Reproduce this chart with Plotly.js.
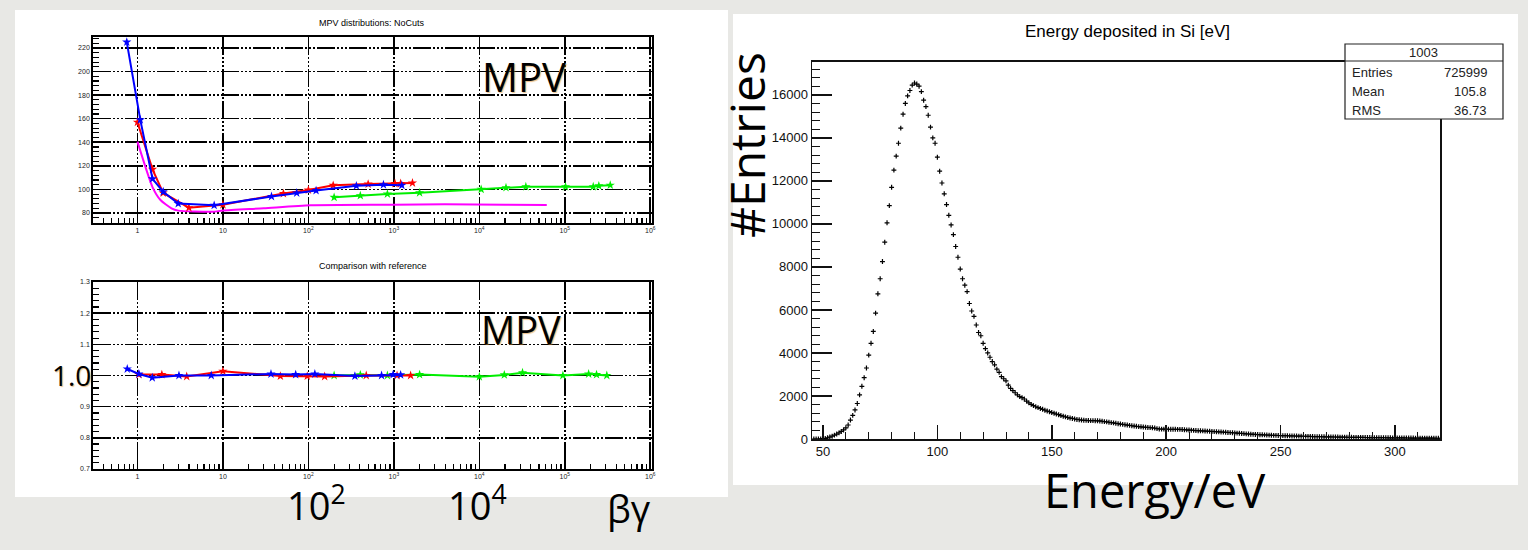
<!DOCTYPE html>
<html><head><meta charset="utf-8">
<script src="https://cdn.plot.ly/plotly-3.0.1.min.js"></script>
<style>html,body{margin:0;padding:0;background:#e8e8e5;}#chart{width:1528px;height:550px;}</style>
</head><body><div id="chart"></div><script>
// ---------- data: MPV vs beta*gamma (top left) ----------
const bgBlue  = [0.75, 1.08, 1.5, 2.0, 3.0, 7.9, 37, 73, 123, 364, 755, 1240];
const mpvBlue = [225, 159, 109, 98, 88, 86.5, 94, 97, 99, 103, 104, 103.5];
const bgRed   = [1.0, 1.5, 2.0, 4.0, 10, 51, 100, 195, 500, 1030, 1200, 1650];
const mpvRed  = [157, 117, 97, 84.5, 87, 96.5, 99.5, 103.5, 104.5, 105, 105, 105.5];
const bgMag   = [1.0, 1.5, 1.86, 2.5, 3.0, 7.5, 10, 30, 106, 1000, 3950, 20000, 61500];
const mpvMag  = [140.5, 102, 91, 84, 82, 81, 82, 84, 86.5, 87, 87.5, 87, 86.8];
const bgGreen = [200, 405, 840, 2000, 10500, 20500, 35000, 102000, 215000, 250000, 340000];
const mpvGreen= [93.3, 94.7, 96.1, 97.2, 100.1, 101.5, 102.3, 102.3, 102.3, 103, 103.6];
// ---------- data: ratio to reference (bottom left) ----------
const bgBlueR  = [0.76, 1.04, 1.49, 3.06, 7.3, 36.5, 71, 119, 350, 718, 980, 1200];
const ratBlue  = [1.021, 1.005, 0.993, 1.0, 1.0, 1.005, 1.003, 1.005, 0.998, 1.0, 1.003, 1.002];
const bgRedR   = [1.04, 1.93, 3.77, 10, 47, 97, 155, 475, 1090, 1570];
const ratRed   = [1.003, 1.003, 0.997, 1.014, 0.998, 0.998, 0.997, 1.0, 1.0, 1.0];
const bgGreenR = [200, 405, 840, 2000, 10000, 19600, 32000, 95000, 190000, 235000, 310000];
const ratGreen = [1.0, 1.002, 1.0, 1.003, 0.996, 1.002, 1.009, 1.0, 1.005, 1.003, 1.0];
const logTickVals = [1, 10, 100, 1000, 10000, 100000, 1000000];
const logTickText = ['1','10','10<sup>2</sup>','10<sup>3</sup>','10<sup>4</sup>','10<sup>5</sup>','10<sup>6</sup>'];
// ---------- data: energy deposited histogram (right) ----------
const binStart = 46;   // eV, first bin centre
const binWidth = 1;    // eV
const counts = [
0,0,0,5,15,30,55,90,130,180,230,285,350,420,520,650,880,1100,1350,1650,
2050,2450,2850,3300,3900,4450,5000,5850,6750,7450,8250,9150,10050,10850,11700,12500,13150,13750,14450,15100,
15600,15950,16200,16450,16550,16500,16400,16150,15750,15450,15050,14500,14000,13750,13100,12450,11900,11400,10900,10400,
9950,9500,8950,8450,7900,7450,7150,6850,6300,5950,5700,5300,4950,4800,4450,4200,4000,3800,3600,3450,
3250,3100,2900,2800,2700,2500,2350,2250,2150,2050,1970,1920,1860,1760,1680,1610,1550,1500,1460,1420,
1380,1340,1300,1270,1230,1200,1160,1130,1090,1060,1030,1000,975,955,930,910,895,880,870,865,
858,855,852,848,845,838,825,810,795,778,760,748,730,712,695,680,662,648,632,616,
602,590,576,566,555,545,536,527,520,508,482,466,460,457,455,453,452,451,450,449,
448,440,432,424,416,408,400,393,387,382,376,370,364,357,351,345,340,333,326,319,
312,305,298,290,282,274,265,257,249,240,232,224,216,211,206,201,196,190,185,180,
175,170,167,163,160,157,153,150,146,142,139,136,133,130,127,124,121,118,115,112,
109,106,104,102,100,98,96,94,92,90,88,86,84,82,80,79,77,76,74,73,
71,70,68,67,65,64,63,61,60,59,57,56,55,53,52,51,50,49,48,47,
46,45,44,43,42,41,40,40,39,38,38,37,36,36,35
];
const energies = counts.map((_, i) => binStart + i * binWidth);
const statsName = '1003';
const statsLabels = ['Entries', 'Mean', 'RMS'];
const statsValues = ['725999', '105.8', '36.73'];

// ---------- layout helpers ----------
const W = 1528, H = 550;
const fx = p => p / W, fy = p => 1 - p / H;
const minorLog = [];
for (let d = -1; d <= 5; d++) for (let m = 2; m <= 9; m++) {
  const v = m * Math.pow(10, d); if (v >= 0.3 && v <= 1e6) minorLog.push(v);
}
const rootFont = 'Liberation Sans, Arial, sans-serif';
const bigFont = 'Open Sans, Noto Sans, sans-serif';
const gridDash = '18px,2px,2px,2px,2px,2px,2px,2px';

function logAxis(anchor) {
  return {
    domain: [fx(93), fx(652)], anchor: anchor, type: 'log', range: [-0.52, 6.02],
    showline: true, mirror: true, linecolor: '#000', linewidth: 1.8,
    ticks: 'inside', ticklen: 9, tickwidth: 1.6, tickcolor: '#000',
    tickmode: 'array', tickvals: logTickVals, ticktext: logTickText,
    tickfont: {family: rootFont, size: 7, color: '#222'},
    showgrid: true, gridcolor: '#000', gridwidth: 1.6, griddash: gridDash,
    minor: {tickmode: 'array', tickvals: minorLog, ticks: 'inside', ticklen: 5, tickwidth: 1.2, tickcolor: '#000', showgrid: false},
    zeroline: false, fixedrange: true
  };
}

const traces = [
  {x: bgMag, y: mpvMag, xaxis: 'x', yaxis: 'y', mode: 'lines', line: {color: '#ff00ff', width: 2, shape: 'spline', smoothing: 0.6}},
  {x: bgGreen, y: mpvGreen, xaxis: 'x', yaxis: 'y', mode: 'lines+markers', line: {color: '#00ee00', width: 2}, marker: {symbol: 'star', size: 7, color: '#00ee00'}},
  {x: bgRed, y: mpvRed, xaxis: 'x', yaxis: 'y', mode: 'lines+markers', line: {color: '#ff0000', width: 2}, marker: {symbol: 'star', size: 7, color: '#ff0000'}},
  {x: bgBlue, y: mpvBlue, xaxis: 'x', yaxis: 'y', mode: 'lines+markers', line: {color: '#0000ff', width: 2}, marker: {symbol: 'star', size: 7, color: '#0000ff'}},
  {x: bgGreenR, y: ratGreen, xaxis: 'x2', yaxis: 'y2', mode: 'lines+markers', line: {color: '#00ee00', width: 2}, marker: {symbol: 'star', size: 7, color: '#00ee00'}},
  {x: bgRedR, y: ratRed, xaxis: 'x2', yaxis: 'y2', mode: 'lines+markers', line: {color: '#ff0000', width: 2}, marker: {symbol: 'star', size: 7, color: '#ff0000'}},
  {x: bgBlueR, y: ratBlue, xaxis: 'x2', yaxis: 'y2', mode: 'lines+markers', line: {color: '#0000ff', width: 2}, marker: {symbol: 'star', size: 7, color: '#0000ff'}},
  {x: energies, y: counts, xaxis: 'x3', yaxis: 'y3', mode: 'markers',
   marker: {symbol: 'cross-thin', size: 3.5, color: '#000', line: {width: 1.2, color: '#000'}}}
];

const ann = (text, xp, yp, size, opts) => Object.assign({
  text: text, x: fx(xp), y: fy(yp), xref: 'paper', yref: 'paper', showarrow: false,
  xanchor: 'center', yanchor: 'middle', font: {family: rootFont, size: size, color: '#000'}
}, opts || {});
const glow = '1px 1px 1px rgba(220,140,40,0.55)';

const annotations = [
  ann('MPV distributions: NoCuts', 372, 23, 9),
  ann('Comparison with reference', 373, 266, 9),
  ann('MPV', 524, 76, 40, {font: {family: bigFont, size: 40, color: '#000', shadow: glow}}),
  ann('MPV', 521, 329, 38, {font: {family: bigFont, size: 38, color: '#000', shadow: glow}}),
  ann('1.0', 71, 375, 28, {font: {family: bigFont, size: 28, color: '#000', shadow: glow}}),
  ann('10<sup>2</sup>', 316, 503, 38, {font: {family: bigFont, size: 38, color: '#000'}}),
  ann('10<sup>4</sup>', 477, 503, 38, {font: {family: bigFont, size: 38, color: '#000'}}),
  ann('βγ', 629, 508, 38, {font: {family: bigFont, size: 38, color: '#000'}}),
  ann('Energy deposited in Si [eV]', 1127, 31, 17),
  ann('#Entries', 746, 145, 48, {textangle: -90, font: {family: bigFont, size: 48, color: '#000'}}),
  ann('Energy/eV', 1155, 490, 47, {font: {family: bigFont, size: 47, color: '#000'}}),
  ann(statsName, 1423, 53, 13, {font: {family: rootFont, size: 13, color: '#222'}})
];
const statsY = [73, 92, 111];
statsLabels.forEach((l, i) => {
  annotations.push(ann(l, 1350, statsY[i], 13, {xanchor: 'left', font: {family: rootFont, size: 13, color: '#222'}}));
  annotations.push(ann(statsValues[i], 1489, statsY[i], 13, {xanchor: 'right', font: {family: rootFont, size: 13, color: '#222'}}));
});

const shapes = [
  {type: 'rect', xref: 'paper', yref: 'paper', x0: fx(15), x1: fx(728), y0: fy(497), y1: fy(10), fillcolor: '#fff', line: {width: 0}, layer: 'below'},
  {type: 'rect', xref: 'paper', yref: 'paper', x0: fx(733), x1: fx(1518), y0: fy(485), y1: fy(14), fillcolor: '#fff', line: {width: 0}, layer: 'below'},
  {type: 'rect', xref: 'paper', yref: 'paper', x0: fx(1345), x1: fx(1503), y0: fy(119), y1: fy(44), fillcolor: '#fff', line: {width: 1.2, color: '#222'}, layer: 'above'},
  {type: 'line', xref: 'paper', yref: 'paper', x0: fx(1345), x1: fx(1503), y0: fy(61), y1: fy(61), line: {width: 1, color: '#222'}, layer: 'above'}
];

const layout = {
  width: W, height: H, margin: {l: 0, r: 0, t: 0, b: 0},
  paper_bgcolor: '#e8e8e5', plot_bgcolor: '#fff', showlegend: false,
  xaxis: logAxis('y'),
  yaxis: {
    domain: [fy(223), fy(37)], anchor: 'x', range: [71.5, 229.3], dtick: 20, tick0: 0,
    showline: true, mirror: true, linecolor: '#000', linewidth: 1.8,
    ticks: 'inside', ticklen: 10, tickwidth: 1.6, tickcolor: '#000',
    tickfont: {family: rootFont, size: 7, color: '#222'},
    showgrid: true, gridcolor: '#000', gridwidth: 1.6, griddash: gridDash,
    minor: {dtick: 4, ticks: 'inside', ticklen: 6, tickwidth: 1.2, tickcolor: '#000', showgrid: false},
    zeroline: false, fixedrange: true
  },
  xaxis2: logAxis('y2'),
  yaxis2: {
    domain: [fy(469), fy(282)], anchor: 'x2', range: [0.7, 1.3],
    tickmode: 'array', tickvals: [0.7, 0.8, 0.9, 1.0, 1.1, 1.2, 1.3], ticktext: ['0.7', '0.8', '0.9', '', '1.1', '1.2', '1.3'],
    showline: true, mirror: true, linecolor: '#000', linewidth: 1.8,
    ticks: 'inside', ticklen: 10, tickwidth: 1.6, tickcolor: '#000',
    tickfont: {family: rootFont, size: 7, color: '#222'},
    showgrid: true, gridcolor: '#000', gridwidth: 1.6, griddash: gridDash,
    minor: {dtick: 0.02, tick0: 0.7, ticks: 'inside', ticklen: 6, tickwidth: 1.2, tickcolor: '#000', showgrid: false},
    zeroline: false, fixedrange: true
  },
  xaxis3: {
    domain: [fx(812), fx(1440)], anchor: 'y3', range: [45.2, 319.7], dtick: 50, tick0: 0,
    showline: true, mirror: true, linecolor: '#111', linewidth: 1.5,
    ticks: 'inside', ticklen: 14, tickwidth: 1.5, tickcolor: '#111',
    tickfont: {family: rootFont, size: 13, color: '#111'},
    minor: {dtick: 10, ticks: 'inside', ticklen: 7, tickwidth: 1, tickcolor: '#111'},
    showgrid: false, zeroline: false, fixedrange: true
  },
  yaxis3: {
    domain: [fy(439), fy(61.7)], anchor: 'x3', range: [0, 17540], dtick: 2000, tick0: 0,
    tickformat: 'd',
    showline: true, mirror: true, linecolor: '#111', linewidth: 1.5,
    ticks: 'inside', ticklen: 20, tickwidth: 1.5, tickcolor: '#111',
    tickfont: {family: rootFont, size: 13, color: '#111'},
    minor: {dtick: 400, ticks: 'inside', ticklen: 8, tickwidth: 1, tickcolor: '#111'},
    showgrid: false, zeroline: false, fixedrange: true
  },
  shapes: shapes, annotations: annotations
};
Plotly.newPlot('chart', traces, layout, {staticPlot: true, displayModeBar: false});
</script></body></html>
